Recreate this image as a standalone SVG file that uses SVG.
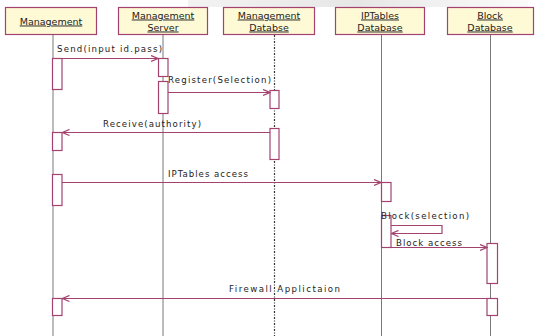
<svg xmlns="http://www.w3.org/2000/svg" width="536" height="336" viewBox="0 0 536 336">
  <defs>
    <linearGradient id="band" x1="0" y1="0" x2="1" y2="0">
      <stop offset="0" stop-color="#e6e6e6" stop-opacity="0.5"/>
      <stop offset="0.5" stop-color="#dcdcdc" stop-opacity="0.7"/>
      <stop offset="1" stop-color="#e6e6e6" stop-opacity="0.2"/>
    </linearGradient>
    <marker id="arr" viewBox="0 0 8 8" refX="7.5" refY="4" markerWidth="8" markerHeight="8" markerUnits="userSpaceOnUse" orient="auto">
      <path d="M0.5,1 L7.5,4 L0.5,7" fill="none" stroke="#a3426e" stroke-width="1.3"/>
    </marker>
  </defs>
  <style>
    .head { fill: #fffad6; stroke: #a3426e; stroke-width: 1.2; }
    .htxt { font-family: "DejaVu Sans", sans-serif; font-size: 9.5px; fill: #222; text-anchor: middle; text-decoration: underline; }
    .life { stroke: #555; stroke-width: 0.8; fill: none; }
    .dotted { stroke: #333; stroke-width: 1.2; stroke-dasharray: 2 1.5 1 1.5; fill: none; }
    .act { fill: #ffffff; stroke: #a3426e; stroke-width: 1.2; }
    .msg { stroke: #a3426e; stroke-width: 1.2; fill: none; }
    .mtxt { font-family: "DejaVu Sans", sans-serif; font-size: 8.6px; fill: #222; }
  </style>
  <rect width="536" height="336" fill="#ffffff"/>
  <rect x="188" y="0" width="340" height="7" fill="url(#band)"/>

  <!-- lifelines -->
  <g id="lifelines">
    <line class="life" x1="53" y1="35" x2="53" y2="336"/>
    <line class="life" x1="163" y1="35" x2="163" y2="336"/>
    <line class="dotted" x1="274.5" y1="35" x2="274.5" y2="336"/>
    <line class="life" x1="381.5" y1="35" x2="381.5" y2="336"/>
    <line class="life" x1="490.5" y1="35" x2="490.5" y2="336"/>
  </g>

  <g id="management">
    <rect class="head" x="5.5" y="7.5" width="91" height="27"/>
    <text class="htxt" x="51" y="24.5">Management</text>
    <rect class="act" x="52.5" y="58.5" width="9.5" height="31"/>
    <rect class="act" x="52.5" y="132.5" width="9.5" height="18"/>
    <rect class="act" x="52.5" y="174.5" width="9.5" height="31"/>
    <rect class="act" x="52.5" y="298.5" width="9.5" height="17"/>
  </g>

  <g id="management-server">
    <rect class="head" x="118.5" y="7.5" width="89" height="27"/>
    <text class="htxt" x="163" y="18.5">Management</text>
    <text class="htxt" x="163" y="30.5">Server</text>
    <rect class="act" x="158.5" y="58.5" width="9.5" height="18"/>
    <rect class="act" x="158.5" y="81.5" width="9.5" height="32"/>
  </g>

  <g id="management-database">
    <rect class="head" x="223.5" y="7.5" width="91" height="27"/>
    <text class="htxt" x="269" y="18.5">Management</text>
    <text class="htxt" x="269" y="30.5">Databse</text>
    <rect class="act" x="270" y="90.5" width="9" height="18"/>
    <rect class="act" x="270" y="128.5" width="9" height="31"/>
  </g>

  <g id="iptables-database">
    <rect class="head" x="335.5" y="7.5" width="89" height="27"/>
    <text class="htxt" x="380" y="18.5">IPTables</text>
    <text class="htxt" x="380" y="30.5">Database</text>
    <rect class="act" x="381.5" y="182.5" width="9.5" height="19"/>
    <rect class="act" x="381.5" y="215.5" width="9.5" height="32"/>
  </g>

  <g id="block-database">
    <rect class="head" x="447.5" y="7.5" width="86" height="27"/>
    <text class="htxt" x="490" y="18.5">Block</text>
    <text class="htxt" x="490" y="30.5">Database</text>
    <rect class="act" x="487" y="243.5" width="10.5" height="40"/>
    <rect class="act" x="487" y="298.5" width="10.5" height="17"/>
  </g>

  <!-- messages -->
  <g id="connectors">
    <line class="msg" x1="62" y1="58.5" x2="158" y2="58.5" marker-end="url(#arr)"/>
    <text class="mtxt" x="57" y="52" textLength="105" lengthAdjust="spacing">Send(input id.pass)</text>

    <line class="msg" x1="168" y1="92.5" x2="270" y2="92.5" marker-end="url(#arr)"/>
    <text class="mtxt" x="168" y="83" textLength="103" lengthAdjust="spacing">Register(Selection)</text>

    <line class="msg" x1="270" y1="132.5" x2="62.5" y2="132.5" marker-end="url(#arr)"/>
    <text class="mtxt" x="103" y="127" textLength="98" lengthAdjust="spacing">Receive(authority)</text>

    <line class="msg" x1="62" y1="182.5" x2="381" y2="182.5" marker-end="url(#arr)"/>
    <text class="mtxt" x="168" y="177" textLength="80" lengthAdjust="spacing">IPTables access</text>

    <path class="msg" d="M391,225.5 H442 V233.5 H391.5" marker-end="url(#arr)"/>
    <text class="mtxt" x="381" y="219" textLength="88" lengthAdjust="spacing">Block(selection)</text>

    <line class="msg" x1="391" y1="247.5" x2="487" y2="247.5" marker-end="url(#arr)"/>
    <text class="mtxt" x="396" y="246" textLength="66" lengthAdjust="spacing">Block access</text>

    <line class="msg" x1="487" y1="298.5" x2="62.5" y2="298.5" marker-end="url(#arr)"/>
    <text class="mtxt" x="229" y="292" textLength="111" lengthAdjust="spacing">Firewall Applictaion</text>
  </g>
</svg>
